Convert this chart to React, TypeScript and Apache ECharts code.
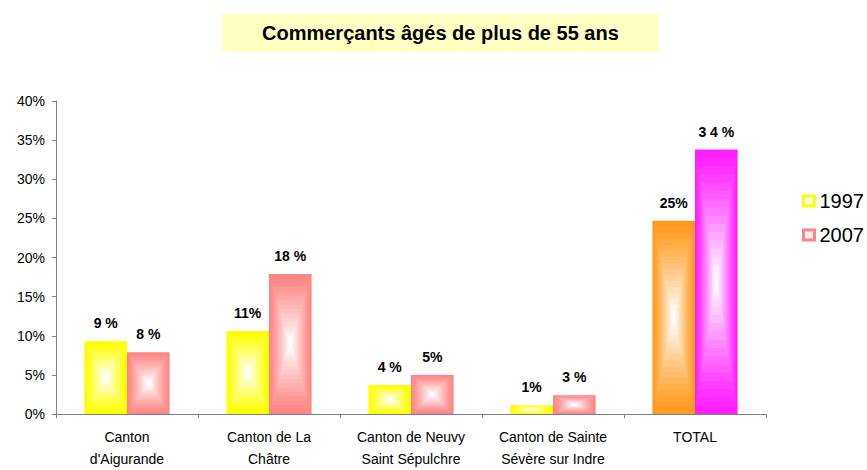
import React, { useEffect, useRef } from "react";
import * as echarts from "echarts";

const categories = [
  "Canton\nd'Aigurande",
  "Canton de La\nChâtre",
  "Canton de Neuvy\nSaint Sépulchre",
  "Canton de Sainte\nSévère sur Indre",
  "TOTAL",
];
const values1997 = [9.3, 10.6, 3.7, 1.1, 24.7];
const values2007 = [7.9, 17.9, 5.0, 2.4, 33.8];
const labels1997 = ["9 %", "11%", "4 %", "1%", "25%"];
const labels2007 = ["8 %", "18 %", "5%", "3 %", "3 4 %"];
const colors1997 = ["#FFFF00", "#FFFF00", "#FFFF00", "#FFFF00", "#FF9A1E"];
const colors2007 = ["#FF8585", "#FF8585", "#FF8585", "#FF8585", "#FF1EFF"];
const seriesNames = ["1997", "2007"];
const yTicks = { min: 0, max: 40, interval: 5 };
const titleText = "Commerçants âgés de plus de 55 ans";

function hexToRgb(h: string) {
  const n = parseInt(h.slice(1), 16);
  return [(n >> 16) & 255, (n >> 8) & 255, n & 255];
}
function mix(c: string, t: number) {
  const [r, g, b] = hexToRgb(c);
  const m = (v: number) => Math.round(v + (255 - v) * t);
  return `rgb(${m(r)},${m(g)},${m(b)})`;
}

const font = "Liberation Sans, Arial, sans-serif";

function makeRenderItem(sIdx: number, colors: string[], labels: string[]) {
  return (params: any, api: any) => {
    const i = api.value(0);
    const v = api.value(1);
    const base = api.coord([i, 0]);
    const top = api.coord([i, v]);
    const band = api.size([1, 0])[0];
    const barW = band * 0.3;
    const x0 = base[0] - barW + sIdx * barW;
    const h = base[1] - top[1];
    const color = colors[i];
    const N = 16;
    const children: any[] = [];
    for (let k = 0; k < N; k++) {
      const f = k / N;
      const w = barW * (1 - f);
      const hh = h * (1 - f);
      const t = Math.pow(k / (N - 1), 1.2);
      children.push({
        type: "rect",
        shape: { x: x0 + (barW - w) / 2, y: top[1] + (h - hh) / 2, width: w, height: hh },
        style: { fill: mix(color, t) },
      });
    }
    children.push({
      type: "text",
      style: {
        text: labels[i],
        x: x0 + barW / 2,
        y: top[1] - 11,
        align: "center",
        verticalAlign: "bottom",
        fontFamily: font,
        fontWeight: "bold",
        fontSize: 14,
        fill: "#000",
      },
    });
    return { type: "group", children };
  };
}

export default function App() {
  const ref = useRef<HTMLDivElement>(null);
  useEffect(() => {
    document.body.style.margin = "0";
    const chart = echarts.init(ref.current!, null, { renderer: "svg" });
    chart.setOption({
      animation: false,
      backgroundColor: "#fff",
      title: {
        text: titleText,
        left: 222,
        top: 14,
        padding: [9, 40],
        backgroundColor: "#FFFFC4",
        textStyle: { fontFamily: font, fontWeight: "bold", fontSize: 20, color: "#000" },
      },
      legend: {
        orient: "vertical",
        left: 797,
        top: 186,
        itemWidth: 11,
        itemHeight: 10,
        itemGap: 14,
        icon: "rect",
        textStyle: { fontFamily: font, fontSize: 20, color: "#000" },
        data: [
          { name: seriesNames[0], itemStyle: { color: "#ffffee", borderColor: "#FFFF00", borderWidth: 3 } },
          { name: seriesNames[1], itemStyle: { color: "#fff0f0", borderColor: "#FF8585", borderWidth: 3 } },
        ],
      },
      grid: { left: 56, right: 101, top: 101, bottom: 52, containLabel: false },
      xAxis: {
        type: "category",
        data: categories,
        axisLine: { lineStyle: { color: "#808080", width: 1 } },
        axisTick: { show: true, length: 4, lineStyle: { color: "#808080" } },
        axisLabel: { interval: 0, color: "#000", fontFamily: font, fontSize: 14, lineHeight: 22, margin: 12 },
      },
      yAxis: {
        type: "value",
        min: yTicks.min,
        max: yTicks.max,
        interval: yTicks.interval,
        splitLine: { show: false },
        axisLine: { show: true, lineStyle: { color: "#808080", width: 1 } },
        axisTick: { show: true, length: 4, lineStyle: { color: "#808080" } },
        axisLabel: { formatter: "{value}%", color: "#000", fontFamily: font, fontSize: 14, margin: 11 },
      },
      series: [
        {
          name: seriesNames[0],
          type: "custom",
          itemStyle: { color: "#FFFF00" },
          renderItem: makeRenderItem(0, colors1997, labels1997),
          encode: { x: 0, y: 1 },
          data: values1997.map((v, i) => [i, v]),
        },
        {
          name: seriesNames[1],
          type: "custom",
          itemStyle: { color: "#FF8585" },
          renderItem: makeRenderItem(1, colors2007, labels2007),
          encode: { x: 0, y: 1 },
          data: values2007.map((v, i) => [i, v]),
        },
      ],
    });
    return () => chart.dispose();
  }, []);
  return <div ref={ref} style={{ width: 867, height: 470 }} />;
}
